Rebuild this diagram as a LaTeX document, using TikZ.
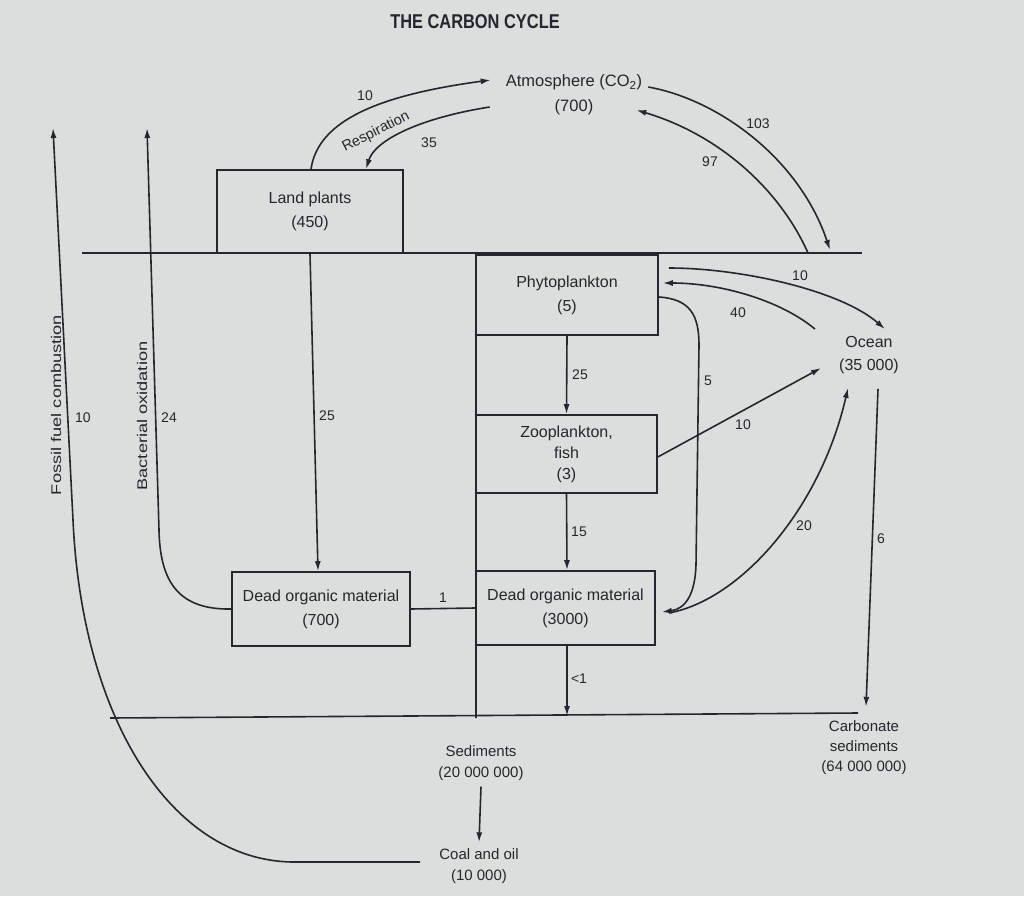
\documentclass[tikz,border=0pt]{standalone}
\usepackage{fontspec}
\setmainfont{Liberation Sans}
\usepackage{graphicx}
\usetikzlibrary{arrows.meta,calc}
\definecolor{bg}{RGB}{218,222,220}
\definecolor{ink}{RGB}{38,38,48}
\newcommand\labfont{\fontsize{16}{24}\selectfont}
\newcommand\numfont{\fontsize{14}{16}\selectfont}
\begin{document}
\begin{tikzpicture}[x=1pt,y=1pt,
  ln/.style={draw=ink, line width=1.6pt},
  arr/.style={ln, -{Latex[length=10pt,width=6pt]}},
  box/.style={draw=ink, line width=1.6pt, align=center, inner sep=0pt, font=\labfont, text=ink},
  lbl/.style={text=ink, font=\labfont, align=center, inner sep=1pt},
  num/.style={text=ink, font=\numfont, inner sep=1pt}]
\fill[bg] (0,0) rectangle (1024,-896);
\useasboundingbox (0,0) rectangle (1024,-896);

% title
\node[text=ink, font=\fontsize{20}{24}\selectfont\bfseries] (title) at (475,-22) {\scalebox{0.82}[1]{THE CARBON CYCLE}};

% text nodes
\node[lbl, font=\fontsize{16.5}{25}\selectfont] (atm) at (574,-95) {Atmosphere (CO\textsubscript{2})\\(700)};
\node[lbl, font=\fontsize{16}{23}\selectfont] (ocean) at (869,-355) {Ocean\\(35 000)};
\node[lbl, font=\fontsize{15}{21}\selectfont] (sed) at (481,-763) {Sediments\\(20 000 000)};
\node[lbl, font=\fontsize{15}{21}\selectfont] (coal) at (479,-866) {Coal and oil\\(10 000)};
\node[lbl, font=\fontsize{15}{20}\selectfont] (carb) at (864,-748) {Carbonate\\sediments\\(64 000 000)};

% boxes
\node[box, minimum width=186, minimum height=83] (land) at (310,-211.5) {Land plants\\(450)};
\node[box, minimum width=182, minimum height=80] (phyto) at (567,-295) {Phytoplankton\\(5)};
\node[box, minimum width=181, minimum height=78, font=\fontsize{16}{21}\selectfont] (zoo) at (566.5,-454) {Zooplankton,\\fish\\(3)};
\node[box, minimum width=179, minimum height=74] (d3000) at (565.5,-608) {Dead organic material\\(3000)};
\node[box, minimum width=178, minimum height=74] (d700) at (321,-609) {Dead organic material\\(700)};

% structural lines
\coordinate (g1) at (82,-253);
\coordinate (g2) at (862,-253);
\coordinate (b1) at (110,-718);
\coordinate (b2) at (858,-713);
\coordinate (dtop) at (476,-253);
\coordinate (dbot) at (476,-718);
\coordinate (ff) at (53,-128);
\coordinate (bo) at (147,-128);
\coordinate (o103) at (830,-250);
\coordinate (o97) at (808,-253);
\coordinate (lt) at (567,-716);
\draw[ln] (g1) -- (g2);
\draw[ln] (b1) -- (b2);
\draw[ln] (dtop) -- (dbot);

% atmosphere exchanges
\draw[arr] ([xshift=1]land.north) .. controls (318,-120) and (380,-95) .. ([xshift=-14,yshift=15]atm.west);
\draw[arr] ([xshift=-15,yshift=-12]atm.west) .. controls (420,-118) and (375,-140) .. ([xshift=56]land.north);
\node[lbl, rotate=27, font=\fontsize{14.5}{17}\selectfont, inner sep=0pt] (resp) at (376,-132) {Respiration};
\node[num] (n10a) at (365,-96) {10};
\node[num] (n35) at (429,-143) {35};
\draw[arr] ([xshift=5,yshift=8]atm.east) .. controls (720,-100) and (800,-160) .. (o103);
\draw[arr] (o97) .. controls (780,-190) and (720,-135) .. ([xshift=-7,yshift=-15]atm.east);
\node[num] (n103) at (758,-124) {103};
\node[num] (n97) at (710,-162) {97};

% fossil fuel and bacterial oxidation
\draw[arr] ([xshift=-18,yshift=4]coal.west) -- (292,-862) .. controls (172,-860) and (82,-720) .. (73,-520) -- (ff);
\node[lbl, rotate=90, font=\fontsize{14}{16}\selectfont] (fflab) at (56,-405) {\scalebox{1.3}[1]{Fossil fuel combustion}};
\node[num] (n10f) at (83,-418) {10};
\draw[arr] (d700.west) .. controls (177,-610) and (160,-580) .. (159,-530) -- (bo);
\node[lbl, rotate=90, font=\fontsize{14}{16}\selectfont] (bolab) at (142,-416) {\scalebox{1.3}[1]{Bacterial oxidation}};
\node[num] (n24) at (169,-418) {24};

% land to dead organic
\draw[arr] (land.south) -- ([xshift=-3]d700.north);
\node[num] (n25a) at (327,-416) {25};

% ocean food chain
\draw[arr] (phyto.south) -- (zoo.north);
\node[num] (n25b) at (580,-375) {25};
\draw[arr] (zoo.south) -- ([xshift=1.5]d3000.north);
\node[num] (n15) at (579,-532) {15};
\draw[ln] (d700.east) -- (d3000.west);
\node[num] (n1) at (443,-598) {1};
\draw[arr] ([xshift=1.5]d3000.south) -- (lt);
\node[num] (nlt1) at (579,-679) {<1};

% phytoplankton / ocean exchanges
\draw[arr] ([xshift=10,yshift=27]phyto.east) .. controls (740,-268) and (840,-290) .. ([xshift=16,yshift=6]ocean.north);
\node[num] (n10b) at (800,-276) {10};
\draw[arr] ([xshift=-54,yshift=6]ocean.north) .. controls (780,-300) and (720,-283) .. ([xshift=4,yshift=12]phyto.east);
\node[num] (n40) at (738,-313) {40};
\draw[arr] ([yshift=-2]phyto.east) .. controls (690,-299) and (699,-315) .. (699,-345) -- (696,-565) .. controls (695,-595) and (685,-609) .. ([xshift=6,yshift=-4]d3000.east);
\node[num] (n5) at (708,-381) {5};
\draw[arr] ([yshift=-3]zoo.east) -- ([xshift=-17,yshift=-13]ocean.west);
\node[num] (n10c) at (743,-425) {10};
\draw[arr] ([xshift=13,yshift=-5]d3000.east) .. controls (740,-600) and (820,-510) .. ([xshift=-21,yshift=-13]ocean.south);
\node[num] (n20) at (804,-526) {20};
\draw[arr] ([xshift=9,yshift=-14]ocean.south) -- ([xshift=2,yshift=13]carb.north);
\node[num] (n6) at (881,-539) {6};

% sediments
\draw[arr] ([yshift=-5]sed.south) -- ([yshift=5]coal.north);
\end{tikzpicture}
\end{document}
